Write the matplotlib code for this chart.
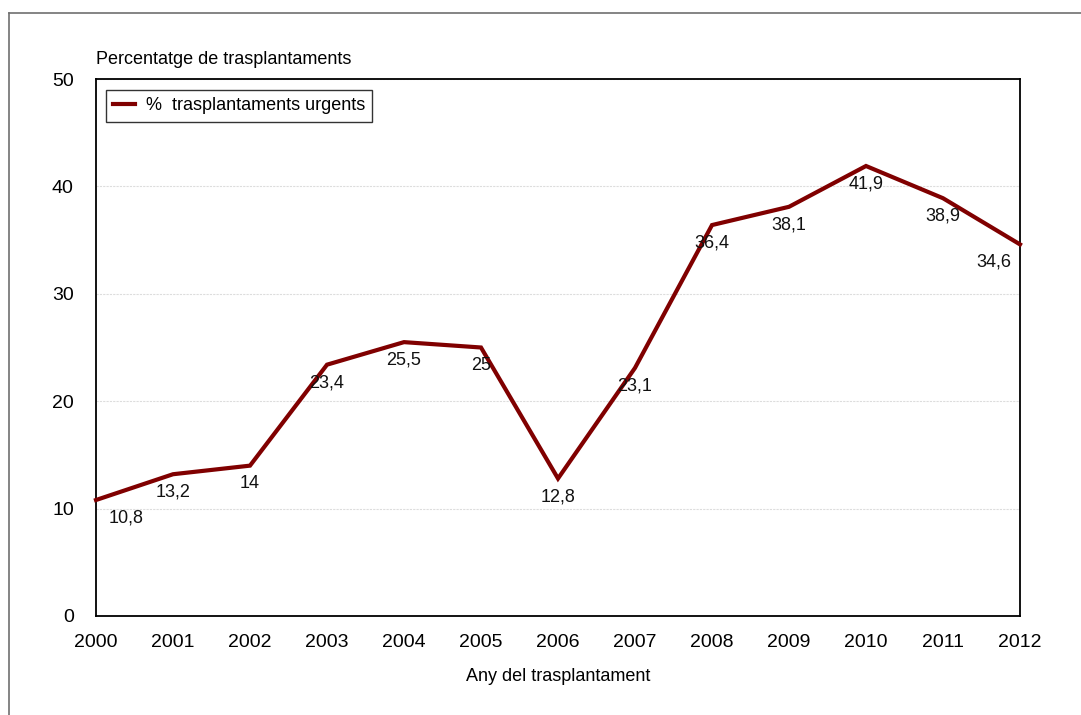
import matplotlib.pyplot as plt
from matplotlib.lines import Line2D
from matplotlib import font_manager

# data
years = [2000, 2001, 2002, 2003, 2004, 2005, 2006, 2007, 2008, 2009, 2010, 2011, 2012]
urgent_pct = [10.8, 13.2, 14, 23.4, 25.5, 25, 12.8, 23.1, 36.4, 38.1, 41.9, 38.9, 34.6]
series_name = "%  trasplantaments urgents"

names = {f.name for f in font_manager.fontManager.ttflist}
narrow = "Liberation Sans Narrow" if "Liberation Sans Narrow" in names else "Liberation Sans"
plt.rcParams['font.family'] = [narrow, 'DejaVu Sans']

fig = plt.figure(figsize=(10.81, 7.15), dpi=100)
ax = fig.add_axes([96 / 1081, 1 - 616 / 715, (1020 - 96) / 1081, (616 - 79) / 715])

line_color = '#800000'
ax.plot(years, urgent_pct, color=line_color, lw=3, solid_joinstyle='miter', clip_on=False, zorder=3)

# data labels below each point, pushed inside at the ends
for i, (x, v) in enumerate(zip(years, urgent_pct)):
    label = f"{v:g}".replace('.', ',')
    if i == 0:
        dx, ha = 13, 'left'
    elif i == len(years) - 1:
        dx, ha = -9, 'right'
    else:
        dx, ha = 0, 'center'
    ax.annotate(label, (x, v), xytext=(dx, -18), textcoords='offset pixels',
                ha=ha, va='center', fontsize=13, color='#111111', zorder=4)

ax.set_xlim(2000, 2012)
ax.set_ylim(0, 50)
ax.set_xticks(years)
ax.set_yticks(range(0, 51, 10))
ax.tick_params(length=0, labelsize=14)
ax.tick_params(axis='y', pad=16)
ax.tick_params(axis='x', pad=13)
ax.yaxis.grid(True, color='#dddddd', lw=0.8, ls=(0, (2, 1)))
ax.set_axisbelow(True)
for sp in ax.spines.values():
    sp.set_linewidth(1.3)
    sp.set_color('black')

ax.set_xlabel("Any del trasplantament", fontsize=13, labelpad=12)
fig.text(96 / 1081, 1 - 60 / 715, "Percentatge de trasplantaments", fontsize=13,
         ha='left', va='center')

handle = Line2D([], [], color=line_color, lw=3)
leg = ax.legend([handle], [series_name], loc='upper left', bbox_to_anchor=(0.011, 0.979),
                fontsize=13, frameon=True, fancybox=False, handlelength=1.2,
                handletextpad=0.6, borderpad=0.4, borderaxespad=0)
leg.get_frame().set_edgecolor('black')
leg.get_frame().set_linewidth(1.0)

# outer chart frame (cut at right and bottom edges)
fig.add_artist(Line2D([9 / 1081, 9 / 1081], [0, 1 - 13 / 715], transform=fig.transFigure,
                      color='#707070', lw=1.2))
fig.add_artist(Line2D([9 / 1081, 1], [1 - 13 / 715, 1 - 13 / 715], transform=fig.transFigure,
                      color='#707070', lw=1.2))

fig.savefig('out.png', dpi=100)
